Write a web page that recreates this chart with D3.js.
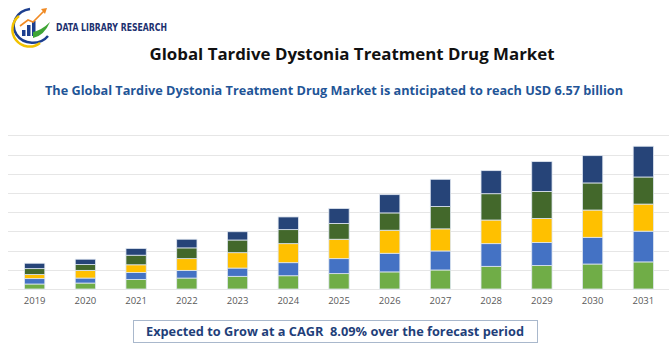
<!DOCTYPE html>
<html><head><meta charset="utf-8">
<script src="https://cdn.jsdelivr.net/npm/d3@7"></script>
<style>html,body{margin:0;padding:0;background:#fff;}svg{display:block;}text{white-space:pre;}</style>
</head><body>
<svg id="c" width="670" height="350"></svg>
<script>
const years = ["2019","2020","2021","2022","2023","2024","2025","2026","2027","2028","2029","2030","2031"];
const seriesA = [0.26,0.31,0.50,0.57,0.66,0.69,0.80,0.89,0.99,1.18,1.22,1.30,1.41];
const seriesB = [0.28,0.26,0.36,0.40,0.43,0.68,0.78,0.97,0.99,1.18,1.20,1.39,1.60];
const seriesC = [0.21,0.40,0.40,0.61,0.80,0.99,1.01,1.20,1.15,1.23,1.25,1.42,1.41];
const seriesD = [0.31,0.30,0.50,0.56,0.66,0.73,0.82,0.90,1.16,1.37,1.41,1.41,1.41];
const seriesE = [0.28,0.28,0.35,0.45,0.43,0.66,0.78,0.95,1.42,1.20,1.55,1.42,1.60];
const gridTicks = [0,1,2,3,4,5,6,7,8];
const colors = ["#70AD47","#4472C4","#FFC000","#43682B","#264478"];

const svg = d3.select("#c");
const keys = ["a","b","c","d","e"];
const table = years.map((y,i)=>({year:y,a:seriesA[i],b:seriesB[i],c:seriesC[i],d:seriesD[i],e:seriesE[i]}));
const stack = d3.stack().keys(keys)(table);

const x = d3.scaleBand().domain(years).range([9.3,668.7]).paddingInner(0.6).paddingOuter(0.3);
const y = d3.scaleLinear().domain([0,8]).range([289,135.3]);

// grid
svg.append("g").selectAll("line").data(gridTicks).join("line")
  .attr("x1",8).attr("x2",669)
  .attr("y1",d=>Math.round(y(d))+0.5).attr("y2",d=>Math.round(y(d))+0.5)
  .attr("stroke","#e6e6e6").attr("stroke-width",1.2);

// bars
svg.append("g").selectAll("g").data(stack).join("g")
  .attr("fill",(d,i)=>colors[i])
  .selectAll("rect").data(d=>d).join("rect")
  .attr("x",d=>x(d.data.year))
  .attr("width",x.bandwidth())
  .attr("y",d=>y(d[1]))
  .attr("height",d=>y(d[0])-y(d[1]))
  .attr("stroke","#dfe6f0").attr("stroke-width",0.8);

// x axis
const ax = svg.append("g").attr("transform","translate(0,289)")
  .call(d3.axisBottom(x).tickSize(0).tickPadding(8));
ax.select(".domain").remove();
ax.selectAll("text").attr("font-family","'Open Sans', 'DejaVu Sans', sans-serif").attr("font-size",9.5).attr("fill","#595959");

// titles
svg.append("text").attr("x",352).attr("y",60).attr("text-anchor","middle")
  .attr("font-family","'Open Sans', sans-serif").attr("font-weight","bold").attr("font-size",16.5)
  .attr("fill","#111").attr("textLength",405).attr("lengthAdjust","spacingAndGlyphs")
  .text("Global Tardive Dystonia Treatment Drug Market");
svg.append("text").attr("x",334).attr("y",95).attr("text-anchor","middle")
  .attr("font-family","'Open Sans', sans-serif").attr("font-weight","bold").attr("font-size",12.5)
  .attr("fill","#1F5597").attr("textLength",578).attr("lengthAdjust","spacingAndGlyphs")
  .text("The Global Tardive Dystonia Treatment Drug Market is anticipated to reach USD 6.57 billion");

// bottom box
svg.append("rect").attr("x",133.5).attr("y",320.5).attr("width",404).attr("height",22)
  .attr("fill","#fff").attr("stroke","#a9b8cc").attr("stroke-width",1);
svg.append("text").attr("x",335).attr("y",336).attr("text-anchor","middle")
  .attr("font-family","'Open Sans', sans-serif").attr("font-weight","bold").attr("font-size",12.5)
  .attr("fill","#1F3F7A").attr("textLength",378).attr("lengthAdjust","spacingAndGlyphs")
  .text("Expected to Grow at a CAGR  8.09% over the forecast period");

// logo
const lg = svg.append("g");
lg.append("path").attr("d","M30,9 A19,17 0 1,0 48,36").attr("fill","none").attr("stroke","#1d3f8f").attr("stroke-width",2.5);
lg.append("path").attr("d","M19,16 A15,15 0 0,0 40,43").attr("fill","none").attr("stroke","#f2c200").attr("stroke-width",2.5);
[[22,30,4],[27,25,5],[32,21,5]].forEach(b=>lg.append("rect").attr("x",b[0]).attr("y",b[1]).attr("width",3.5).attr("height",36-b[1]).attr("fill","#1d3f8f"));
lg.append("path").attr("d","M33,38 Q44,36 50,22 Q42,30 33,32 Z").attr("fill","#3fa535");
lg.append("path").attr("d","M20,26 L28,20 L33,22 L44,11").attr("fill","none").attr("stroke","#f08a24").attr("stroke-width",1.6);
lg.append("path").attr("d","M41,9 L47,8 L45,14 Z").attr("fill","#f08a24");
lg.append("text").attr("x",56).attr("y",31).attr("font-family","'DejaVu Sans Condensed','DejaVu Sans', sans-serif").attr("font-weight","bold")
  .attr("font-size",11).attr("fill","#1d3170").attr("textLength",111).attr("lengthAdjust","spacingAndGlyphs")
  .text("DATA LIBRARY RESEARCH");
</script>
</body></html>
